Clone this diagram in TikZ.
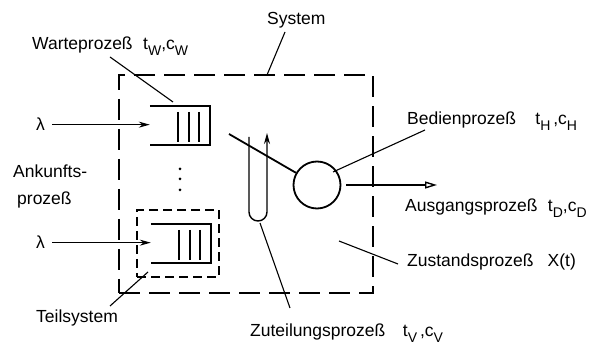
\documentclass[tikz,border=0pt]{standalone}
\usepackage{fontspec}
\setmainfont{Liberation Sans}
\usetikzlibrary{arrows.meta,positioning,calc}
\newcommand{\ix}[1]{\raisebox{-0.6ex}{\fontsize{14}{15}\selectfont #1}}

\begin{document}
\begin{tikzpicture}[x=1pt,y=-1pt,
    lbl/.style={anchor=base west,inner sep=0pt,font=\fontsize{17.5}{20}\selectfont},
    leader/.style={line width=1.1pt},
    queue/.style={minimum width=60pt,minimum height=39pt,inner sep=0pt},
    qline/.style={line width=2.2pt},
    sysbox/.style={draw,line width=1.4pt,dash pattern=on 21pt off 9pt,
      minimum width=254pt,minimum height=218pt,inner sep=0pt},
    subbox/.style={draw,line width=1.3pt,dash pattern=on 9pt off 5pt,
      minimum width=82pt,minimum height=67pt,inner sep=0pt},
    server/.style={draw,circle,line width=1.8pt,minimum size=47pt,inner sep=0pt},
    inarrow/.style={line width=1.1pt,shorten <=7pt,-{Stealth[length=11pt,width=6pt]}}]
    \useasboundingbox (0,0) rectangle (603,347);
    % system and subsystem
    \node[sysbox] (sys) at (246,184) {};
    \node[subbox] (tsys) at (178,243.5) {};
    % queues and server
    \node[queue] (q1) at (180,125.5) {};
    \node[queue] (q2) at (181,243.5) {};
    \node[server] (srv) at (317,185) {};
    \foreach \q in {q1,q2} {
      \draw[qline] (\q.north west) -- (\q.north east) -- (\q.south east) -- (\q.south west);
      \foreach \d in {-2,9,19} \draw[line width=1.4pt] ($(\q.north)+(\d,6)$) -- ($(\q.south)+(\d,-3)$);
    }
    \foreach \y in {169,179,190} \fill (180,\y) circle (1.5pt);
    % labels
    \node[lbl] (lam1) at (36,131) {λ};
    \node[lbl] (lam2) at (36,249) {λ};
    \node[lbl] (systxt) at (267,25) {System};
    \node[lbl] (wart) at (32,50) {Warteprozeß\hspace{0.6em}t\ix{W},c\ix{W}};
    \node[lbl] (ank1) at (13,178) {Ankunfts-};
    \node[lbl] (ank2) at (17,205) {prozeß};
    \node[lbl] (bed) at (407,125) {Bedienprozeß\hspace{1.1em}t\ix{H}\,,c\ix{H}};
    \node[lbl] (aus) at (405,212) {Ausgangsprozeß\hspace{0.6em}t\ix{D},c\ix{D}};
    \node[lbl] (zus) at (407,267) {Zustandsprozeß\hspace{0.8em}X(t)};
    \node[lbl] (zut) at (250,337) {Zuteilungsprozeß\hspace{1em}t\ix{V}\,,c\ix{V}};
    \node[lbl] (teil) at (36,323) {Teilsystem};
    % arrivals
    \draw[inarrow] (lam1.east) -- (lam1.east -| q1.west);
    \draw[inarrow] (lam2.east) -- (lam2.east -| q2.west);
    % allocation tube
    \coordinate (tubeL) at (249,137);
    \coordinate (tubeR) at (267,133);
    \draw[line width=1.4pt,-{Stealth[length=11pt,width=6pt]}] (tubeL) -- ++(0,75)
      arc[start angle=180,end angle=360,radius=9pt] -- (tubeR);
    % feed to server and departure
    \coordinate (feed) at (229,134);
    \coordinate (outE) at (437,185);
    \draw[line width=1.8pt] (feed) -- (srv);
    \draw[line width=1.4pt,shorten <=5pt,-{Triangle[open,length=12pt,width=7pt]}] (srv.east) -- (outE);
    % leader lines
    \coordinate (sysA) at (267,75);   \coordinate (sysB) at (285,32);
    \coordinate (wartA) at (173,102); \coordinate (wartB) at (110,57);
    \coordinate (bedA) at (333,172);  \coordinate (bedB) at (425,130);
    \coordinate (zusA) at (339,241);  \coordinate (zusB) at (398,264);
    \coordinate (zutA) at (260,223);  \coordinate (zutB) at (290,308);
    \coordinate (teilA) at (148,272); \coordinate (teilB) at (110,306);
    \foreach \n in {sys,wart,bed,zus,zut,teil} \draw[leader] (\n A) -- (\n B);
\end{tikzpicture}
\end{document}
